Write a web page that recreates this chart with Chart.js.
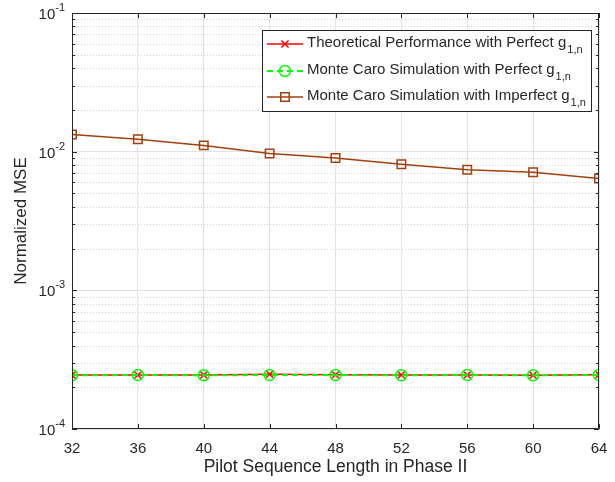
<!DOCTYPE html>
<html>
<head>
<meta charset="utf-8">
<script src="https://cdn.jsdelivr.net/npm/chart.js@4.4.0/dist/chart.umd.min.js"></script>
<style>
html, body { margin: 0; padding: 0; background: #fff; }
#wrap { width: 615px; height: 482px; }
</style>
</head>
<body>
<div id="wrap"><canvas id="chart"></canvas></div>
<script>
// datos
const pilotLengths = [32, 36, 40, 44, 48, 52, 56, 60, 64];
const theoPerfect = [2.45e-4, 2.45e-4, 2.45e-4, 2.48e-4, 2.46e-4, 2.45e-4, 2.45e-4, 2.44e-4, 2.46e-4];
const mcPerfect = [2.44e-4, 2.45e-4, 2.44e-4, 2.45e-4, 2.45e-4, 2.44e-4, 2.45e-4, 2.44e-4, 2.45e-4];
const mcImperfect = [0.0133, 0.0123, 0.0111, 0.0097, 0.0090, 0.0081, 0.0074, 0.0071, 0.0064];

const xTicks = [32, 36, 40, 44, 48, 52, 56, 60, 64];
const yDecades = [1e-4, 1e-3, 1e-2, 1e-1];
const yDecadeExp = ['-4', '-3', '-2', '-1'];
const legendNames = [
    'Theoretical Performance with Perfect g',
    'Monte Caro Simulation with Perfect g',
    'Monte Caro Simulation with Imperfect g'
];
const legendSub = '1,n';

const FONT = "'Liberation Sans', Arial, sans-serif";
const AXIS = '#262626';
const RED = '#ff0000';
const GREEN = '#00ff00';
const BROWN = '#a2400e';

function toPoints(ys) {
    return pilotLengths.map((x, i) => ({ x: x, y: ys[i] }));
}

// marcas menores 2..9 de cada decada
const yMinor = [];
yDecades.slice(0, 3).forEach(d => {
    for (let k = 2; k <= 9; k++) yMinor.push(d * k);
});

const matlabAxes = {
    id: 'matlabAxes',
    beforeDatasetsDraw(chart) {
        const ctx = chart.ctx;
        const a = chart.chartArea;
        const y = chart.scales.y;
        ctx.save();
        ctx.strokeStyle = '#d2d2d2';
        ctx.lineWidth = 1;
        ctx.setLineDash([1, 2]);
        yMinor.forEach(v => {
            const py = Math.round(y.getPixelForValue(v)) + 0.5;
            ctx.beginPath();
            ctx.moveTo(a.left, py);
            ctx.lineTo(a.right, py);
            ctx.stroke();
        });
        ctx.restore();
    },
    afterDraw(chart) {
        const ctx = chart.ctx;
        const a = chart.chartArea;
        const x = chart.scales.x;
        const y = chart.scales.y;
        ctx.save();
        ctx.strokeStyle = AXIS;
        ctx.lineWidth = 1;
        ctx.setLineDash([]);
        // caja
        ctx.beginPath();
        ctx.rect(a.left + 0.5, a.top + 0.5, a.right - a.left - 1, a.bottom - a.top - 1);
        ctx.stroke();
        // marcas hacia adentro
        ctx.beginPath();
        xTicks.forEach(v => {
            const px = Math.round(x.getPixelForValue(v)) + 0.5;
            ctx.moveTo(px, a.bottom); ctx.lineTo(px, a.bottom - 5);
            ctx.moveTo(px, a.top); ctx.lineTo(px, a.top + 5);
        });
        yDecades.forEach(v => {
            const py = Math.round(y.getPixelForValue(v)) + 0.5;
            ctx.moveTo(a.left, py); ctx.lineTo(a.left + 5, py);
            ctx.moveTo(a.right, py); ctx.lineTo(a.right - 5, py);
        });
        yMinor.forEach(v => {
            const py = Math.round(y.getPixelForValue(v)) + 0.5;
            ctx.moveTo(a.left, py); ctx.lineTo(a.left + 3, py);
            ctx.moveTo(a.right, py); ctx.lineTo(a.right - 3, py);
        });
        ctx.stroke();

        // etiquetas del eje y con exponente
        ctx.fillStyle = AXIS;
        ctx.textBaseline = 'middle';
        yDecades.forEach((v, i) => {
            const py = y.getPixelForValue(v);
            ctx.font = '11px ' + FONT;
            ctx.textAlign = 'right';
            const expW = ctx.measureText(yDecadeExp[i]).width;
            ctx.fillText(yDecadeExp[i], a.left - 7, py - 5);
            ctx.font = '15px ' + FONT;
            ctx.fillText('10', a.left - 7 - expW, py + 2);
        });

        // leyenda
        const box = { l: 262, t: 30, r: 592, b: 112 };
        ctx.fillStyle = '#fff';
        ctx.fillRect(box.l, box.t, box.r - box.l, box.b - box.t);
        ctx.strokeStyle = AXIS;
        ctx.strokeRect(box.l + 0.5, box.t + 0.5, box.r - box.l - 1, box.b - box.t - 1);
        const rows = [44, 71, 97];
        chart.data.datasets.forEach((ds, i) => {
            const ry = rows[i];
            ctx.save();
            ctx.strokeStyle = ds.borderColor;
            ctx.lineWidth = ds.borderWidth;
            ctx.setLineDash(ds.borderDash || []);
            ctx.beginPath();
            ctx.moveTo(267, ry); ctx.lineTo(303, ry);
            ctx.stroke();
            ctx.setLineDash([]);
            ctx.lineWidth = ds.pointBorderWidth;
            ctx.fillStyle = 'rgba(0,0,0,0)';
            Chart.helpers.drawPoint(ctx, {
                pointStyle: ds.pointStyle, radius: ds.pointRadius, rotation: 0, borderWidth: ds.pointBorderWidth
            }, 285, ry);
            ctx.restore();
            ctx.fillStyle = AXIS;
            ctx.textAlign = 'left';
            ctx.textBaseline = 'middle';
            ctx.font = '15px ' + FONT;
            ctx.fillText(legendNames[i], 307, ry - 1);
            const w = ctx.measureText(legendNames[i]).width;
            ctx.font = '11px ' + FONT;
            ctx.fillText(legendSub, 307 + w + 1, ry + 6);
        });
        ctx.restore();
    }
};

new Chart(document.getElementById('chart'), {
    type: 'line',
    data: {
        datasets: [
            {
                label: legendNames[0],
                data: toPoints(theoPerfect),
                borderColor: RED,
                backgroundColor: RED,
                borderWidth: 1.5,
                pointStyle: 'crossRot',
                pointRadius: 5,
                pointBorderWidth: 1.5,
                pointBorderColor: RED,
                order: 2
            },
            {
                label: legendNames[1],
                data: toPoints(mcPerfect),
                borderColor: GREEN,
                backgroundColor: 'rgba(0,0,0,0)',
                borderWidth: 2,
                borderDash: [6, 4],
                pointStyle: 'circle',
                pointRadius: 5.5,
                pointBorderWidth: 1.5,
                pointBorderColor: GREEN,
                order: 1
            },
            {
                label: legendNames[2],
                data: toPoints(mcImperfect),
                borderColor: BROWN,
                backgroundColor: 'rgba(0,0,0,0)',
                borderWidth: 1.5,
                pointStyle: 'rect',
                pointRadius: 6,
                pointBorderWidth: 1.5,
                pointBorderColor: BROWN,
                order: 0
            }
        ]
    },
    options: {
        responsive: true,
        maintainAspectRatio: false,
        animation: false,
        events: [],
        layout: { padding: { top: 13, right: 16, left: 0, bottom: 0 } },
        plugins: { legend: { display: false }, tooltip: { enabled: false } },
        scales: {
            x: {
                type: 'linear',
                min: 32,
                max: 64,
                afterBuildTicks: s => { s.ticks = xTicks.map(v => ({ value: v })); },
                afterFit: s => { s.height = 53; s.paddingLeft = 0; s.paddingRight = 0; },
                grid: { color: '#e3e3e3', drawTicks: false },
                border: { display: false },
                ticks: { color: AXIS, font: { family: FONT, size: 15 }, padding: 11, maxRotation: 0 },
                title: {
                    display: true,
                    text: 'Pilot Sequence Length in Phase II',
                    color: AXIS,
                    font: { family: FONT, size: 17.5 },
                    padding: { bottom: 4, top: 0 }
                }
            },
            y: {
                type: 'logarithmic',
                min: 1e-4,
                max: 1e-1,
                afterBuildTicks: s => { s.ticks = yDecades.map(v => ({ value: v })); },
                afterFit: s => { s.width = 72; },
                grid: { color: '#e3e3e3', drawTicks: false },
                border: { display: false },
                ticks: { display: false },
                title: {
                    display: true,
                    text: 'Normalized MSE',
                    color: AXIS,
                    font: { family: FONT, size: 17 },
                    padding: { top: 11, bottom: 0 }
                }
            }
        }
    },
    plugins: [matlabAxes]
});
</script>
</body>
</html>
